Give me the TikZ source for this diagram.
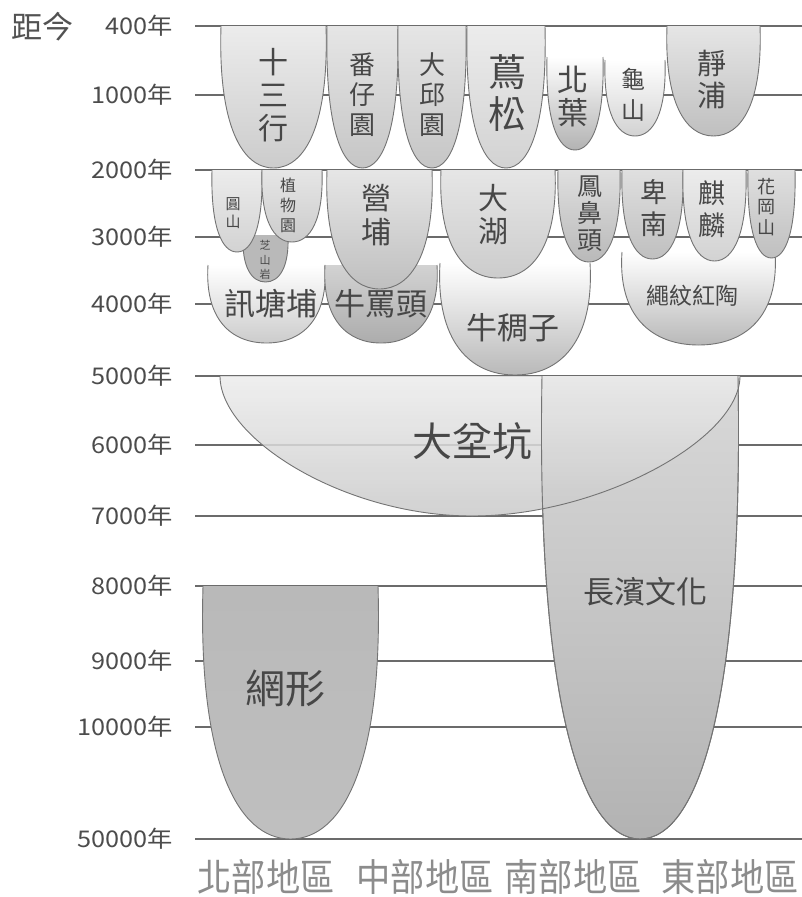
\documentclass[tikz,border=0pt]{standalone}
\usepackage{fontspec}
\newfontfamily\tc{Noto Sans CJK TC}
\newfontfamily\axisfont[FakeStretch=1.1]{Noto Sans CJK TC}
\newfontfamily\areafont[FakeStretch=0.9]{Noto Sans CJK TC}
% #1 style, #2 left, #3 right, #4 top, #5 bottom
\newcommand{\cupshape}[5]{%
  \path[#1] (#2,#4) .. controls ({#2-0.03*(#3-#2)},{#4+0.7*(#5-#4)}) and ({#2+0.2*(#3-#2)},#5) .. ({(#2+#3)/2},#5)
    .. controls ({#3-0.2*(#3-#2)},#5) and ({#3+0.03*(#3-#2)},{#4+0.7*(#5-#4)}) .. (#3,#4);}

\begin{document}
\begin{tikzpicture}[x=1pt,y=-1pt,
  yline/.style={draw=black!58,line width=1.8pt},
  cup/.style={draw=black!55,line width=0.9pt},
  lbl/.style={text=black!72,inner sep=0pt,align=center},
  yr/.style={text=black!70,font=\fontsize{23}{23}\selectfont\axisfont,anchor=east,inner sep=0pt},
  area/.style={text=black!45,font=\fontsize{38}{38}\selectfont\areafont,inner sep=0pt}]
    \useasboundingbox (0,0) rectangle (802,897);
    %years
    \node[lbl,text=black!68,font=\fontsize{31}{31}\selectfont\tc] (jj) at (43,27) {距今};
    \foreach \y/\t in {26/400,95/1000,170/2000,237/3000,304/4000,376/5000,445/6000,516/7000,586/8000,661/9000,727/10000,839/50000}{
      \draw[yline] (195,\y) -- (802,\y);
      \node[yr] (y\t) at (173,\y) {\t{}年};
    }
    %4000
    \cupshape{cup,top color=white,bottom color=gray!40}{208}{325}{265}{343}
    \cupshape{cup,top color=gray!35,bottom color=gray!65}{325}{437}{265}{343}
    \cupshape{cup,top color=white,bottom color=gray!55}{440}{590}{263}{375}
    \cupshape{cup,top color=white,bottom color=gray!55}{622}{775}{252}{345}
    \cupshape{cup,fill=gray!55}{243}{288}{235}{282}
    %2000
    \cupshape{cup,top color=gray!15,bottom color=gray!35}{212}{262}{170}{252}
    \cupshape{cup,top color=gray!20,bottom color=gray!40}{262}{322}{170}{242}
    \cupshape{cup,top color=gray!20,bottom color=gray!50}{327}{432}{170}{289}
    \cupshape{cup,top color=gray!20,bottom color=gray!40}{441}{555}{170}{278}
    \cupshape{cup,top color=gray!25,bottom color=gray!55}{558}{620}{170}{262}
    \cupshape{cup,top color=gray!25,bottom color=gray!50}{622}{683}{170}{259}
    \cupshape{cup,top color=gray!15,bottom color=gray!35}{683}{746}{170}{261}
    \cupshape{cup,top color=gray!25,bottom color=gray!50}{748}{795}{170}{258}
    %400
    \cupshape{cup,top color=gray!15,bottom color=gray!40}{221}{326}{26}{168}
    \cupshape{cup,top color=gray!20,bottom color=gray!45}{327}{398}{26}{168}
    \cupshape{cup,top color=gray!20,bottom color=gray!45}{398}{466}{26}{168}
    \cupshape{cup,top color=gray!15,bottom color=gray!35}{467}{545}{26}{168}
    \cupshape{cup,top color=white,bottom color=gray!60}{547}{603}{57}{150}
    \cupshape{cup,top color=white,bottom color=gray!35}{605}{665}{60}{136}
    \cupshape{cup,top color=gray!20,bottom color=gray!50}{667}{760}{26}{136}
    %5000
    \cupshape{cup,top color=gray!30,bottom color=gray!60}{542}{738}{376}{839}
    \path[cup,top color=gray!15,bottom color=gray!42,fill opacity=0.85] (220,376) .. controls (220,439) and (345,516) .. (472,516)
      .. controls (600,516) and (740,439) .. (740,376);
    \cupshape{cup}{542}{738}{376}{839}
    \cupshape{cup,top color=gray!55,bottom color=gray!50}{203}{378}{586}{839}
    %labels
    \node[lbl,font=\fontsize{30}{33}\selectfont\tc] (ssh) at (273,95) {十\\三\\行};
    \node[lbl,font=\fontsize{26}{30}\selectfont\tc] (fzy) at (362,95) {番\\仔\\園};
    \node[lbl,font=\fontsize{26}{30}\selectfont\tc] (dqy) at (432,95) {大\\邱\\園};
    \node[lbl,font=\fontsize{38}{42}\selectfont\tc] (ns) at (507,93) {蔦\\松};
    \node[lbl,font=\fontsize{31}{33}\selectfont\tc] (by) at (573,96) {北\\葉};
    \node[lbl,font=\fontsize{24}{31}\selectfont\tc] (gs) at (633,95) {龜\\山};
    \node[lbl,font=\fontsize{29}{32}\selectfont\tc] (jp) at (712,79) {靜\\浦};
    \node[lbl,font=\fontsize{15}{18}\selectfont\tc] (ys) at (233,213) {圓\\山};
    \node[lbl,font=\fontsize{16}{20}\selectfont\tc] (zwy) at (288,205) {植\\物\\園};
    \node[lbl,font=\fontsize{11}{14.5}\selectfont\tc] (zsy) at (265,260) {芝\\山\\岩};
    \node[lbl,font=\fontsize{30}{34}\selectfont\tc] (yp) at (376,215) {營\\埔};
    \node[lbl,font=\fontsize{30}{33}\selectfont\tc] (dh) at (493,215) {大\\湖};
    \node[lbl,font=\fontsize{25}{27}\selectfont\tc] (fbt) at (590,214) {鳳\\鼻\\頭};
    \node[lbl,font=\fontsize{27}{32}\selectfont\tc] (bn) at (654,208) {卑\\南};
    \node[lbl,font=\fontsize{27}{32}\selectfont\tc] (ql) at (712,209) {麒\\麟};
    \node[lbl,font=\fontsize{18}{20.5}\selectfont\tc] (hgs) at (766,207) {花\\岡\\山};
    \node[lbl,font=\fontsize{31}{31}\selectfont\tc] (xtp) at (271,304) {訊塘埔};
    \node[lbl,font=\fontsize{31}{31}\selectfont\tc] (nmt) at (381,304) {牛罵頭};
    \node[lbl,font=\fontsize{31}{31}\selectfont\tc] (ncz) at (513,328) {牛稠子};
    \node[lbl,font=\fontsize{23}{23}\selectfont\tc] (swht) at (692,296) {繩紋紅陶};
    \node[lbl,font=\fontsize{40}{40}\selectfont\tc] (dbk) at (472,441) {大坌坑};
    \node[lbl,font=\fontsize{31}{31}\selectfont\tc] (cbwh) at (645,592) {長濱文化};
    \node[lbl,font=\fontsize{40}{40}\selectfont\tc] (wx) at (285,688) {網形};
    %areas
    \node[area] (north) at (266,877) {北部地區};
    \node[area] (central) at (425,877) {中部地區};
    \node[area] (south) at (573,877) {南部地區};
    \node[area] (east) at (730,877) {東部地區};
\end{tikzpicture}
\end{document}
